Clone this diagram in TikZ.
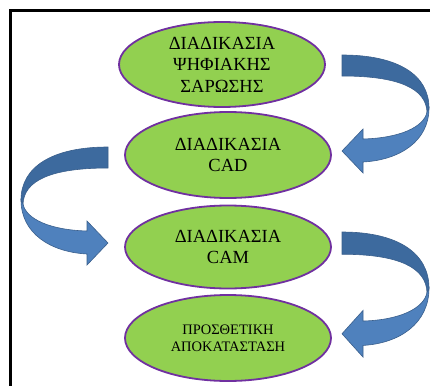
\documentclass[tikz,border=0pt]{standalone}
\usepackage{fontspec}
\setmainfont{Liberation Serif}
\usetikzlibrary{shapes.geometric}
\definecolor{elfill}{HTML}{92D050}
\definecolor{elline}{HTML}{7030A0}
\definecolor{arrdark}{HTML}{3D6A9E}
\definecolor{arrlight}{HTML}{4F81BD}
\definecolor{arrline}{HTML}{3A5F8C}
\tikzset{
  proc/.style={ellipse, draw=elline, line width=1.8pt, fill=elfill,
    minimum width=206pt, minimum height=85pt, inner sep=0pt, align=center,
    font=\fontsize{18.5}{21.5}\selectfont},
  darkpart/.style={fill=arrdark, draw=arrline, line width=0.6pt},
  lightpart/.style={fill=arrlight, draw=arrline, line width=0.6pt},
  pics/curvedarrow/.style={code={
    \path[darkpart] (0,0) .. controls (-56,0) and (-87,20) .. (-87,53)
      -- (-85,57) .. controls (-84,34) and (-58,21) .. (0,21) -- cycle;
    \path[lightpart] (-87,53) .. controls (-87,86) and (-58,105) .. (-21,107)
      -- (-21,118) -- (0,96) -- (-21,74) -- (-21,84)
      .. controls (-58,83) and (-82,72) .. (-85,57) -- cycle;
  }}
}
\begin{document}
\begin{tikzpicture}[x=1pt,y=-1pt]
\useasboundingbox (0,0) rectangle (430,385);
\draw[line width=3pt] (10.5,386) -- (10.5,10.5) -- (431,10.5);
\node[proc, minimum width=206pt, minimum height=85pt] (scan) at (222,64.5) {ΔΙΑΔΙΚΑΣΙΑ\\ΨΗΦΙΑΚΗΣ\\ΣΑΡΩΣΗΣ};
\node[proc, minimum height=86pt] (cad) at (228,155) {ΔΙΑΔΙΚΑΣΙΑ\\CAD};
\node[proc, minimum height=83pt] (cam) at (228,247) {ΔΙΑΔΙΚΑΣΙΑ\\CAM};
\node[proc, minimum height=86pt, font=\fontsize{14.5}{17}\selectfont] (prost) at (228,338) {ΠΡΟΣΘΕΤΙΚΗ\\ΑΠΟΚΑΤΑΣΤΑΣΗ};
\pic[xscale=-1] at (342,55) {curvedarrow};
\pic at (108,147) {curvedarrow};
\pic[xscale=-1, yscale=1.06] at (342,232) {curvedarrow};
\end{tikzpicture}
\end{document}
